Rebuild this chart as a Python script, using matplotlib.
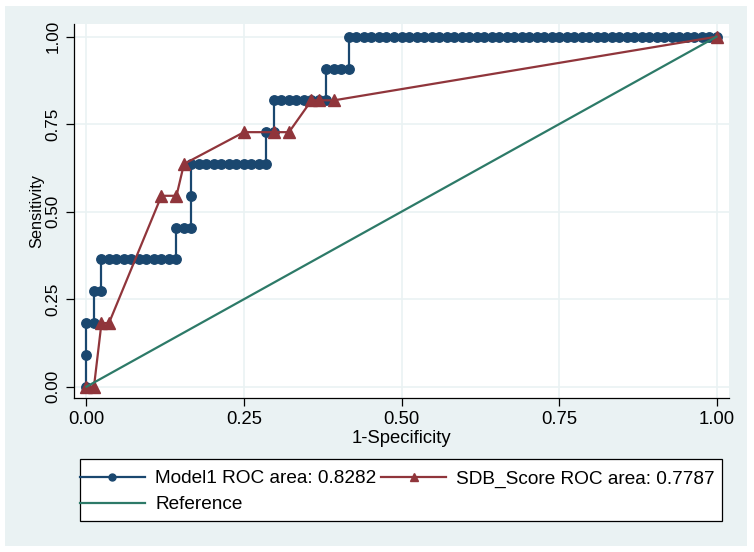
import matplotlib
matplotlib.use("Agg")
import matplotlib.pyplot as plt
from matplotlib.lines import Line2D
from matplotlib.patches import Rectangle
import numpy as np

plt.rcParams["font.family"] = ["Liberation Sans", "DejaVu Sans"]

# counts: 84 negatives, 11 positives
n_neg = 84
n_pos = 11

# Model1 ROC points (false positives, true positives)
fp_model1 = [0, 0, 0, 1, 1, 2, 2,
             3, 4, 5, 6, 7, 8, 9, 10, 11, 12,
             12, 13, 14, 14, 14,
             15, 16, 17, 18, 19, 20, 21, 22, 23, 24,
             24, 25, 25, 26, 27, 28, 29, 30, 31, 32,
             32, 33, 34, 35, 35,
             36, 37, 38, 39, 40, 41, 42, 43, 44, 45, 46, 47, 48, 49, 50, 51,
             52, 53, 54, 55, 56, 57, 58, 59, 60, 61, 62, 63, 64, 65, 66, 67,
             68, 69, 70, 71, 72, 73, 74, 75, 76, 77, 78, 79, 80, 81, 82, 83, 84]
tp_model1 = [0, 1, 2, 2, 3, 3, 4,
             4, 4, 4, 4, 4, 4, 4, 4, 4, 4,
             5, 5, 5, 6, 7,
             7, 7, 7, 7, 7, 7, 7, 7, 7, 7,
             8, 8, 9, 9, 9, 9, 9, 9, 9, 9,
             10, 10, 10, 10, 11,
             11, 11, 11, 11, 11, 11, 11, 11, 11, 11, 11, 11, 11, 11, 11, 11,
             11, 11, 11, 11, 11, 11, 11, 11, 11, 11, 11, 11, 11, 11, 11, 11,
             11, 11, 11, 11, 11, 11, 11, 11, 11, 11, 11, 11, 11, 11, 11, 11, 11]

# SDB_Score ROC points
fp_sdb = [0, 1, 2, 3, 10, 12, 13, 21, 25, 27, 30, 31, 33, 84]
tp_sdb = [0, 0, 2, 2, 6, 6, 7, 8, 8, 8, 9, 9, 9, 11]

ref_x = [0, 1]
ref_y = [0, 1]

label_model1 = "Model1 ROC area: 0.8282"
label_sdb = "SDB_Score ROC area: 0.7787"
label_ref = "Reference"
ticks = [0, 0.25, 0.5, 0.75, 1.0]
tick_labels = ["0.00", "0.25", "0.50", "0.75", "1.00"]

navy = "#1a476f"
maroon = "#90353b"
green = "#2d7a68"
bg = "#eaf2f3"

W, H = 754, 552
fig = plt.figure(figsize=(W / 100, H / 100), dpi=100)
fig.patch.set_facecolor("white")
fig.patches.append(Rectangle((5 / W, 6 / H), 742 / W, 540 / H, transform=fig.transFigure,
                             facecolor=bg, edgecolor="none", zorder=-10))

ax = fig.add_axes([74 / W, (H - 398) / H, (729 - 74) / W, (398 - 24) / H])
ax.set_facecolor("white")

x1 = np.array(fp_model1) / n_neg
y1 = np.array(tp_model1) / n_pos
x2 = np.array(fp_sdb) / n_neg
y2 = np.array(tp_sdb) / n_pos

ax.plot(x1, y1, color=navy, lw=1.6, marker="o", ms=6.8, mec=navy, mfc=navy, zorder=3)
ax.plot(x2, y2, color=maroon, lw=1.6, marker="^", ms=8, mec=maroon, mfc=maroon, zorder=4)
ax.plot(ref_x, ref_y, color=green, lw=1.6, zorder=5)

ax.set_xlim(-0.0198, 1.0198)
ax.set_ylim(-0.0323, 1.0363)
ax.set_xticks(ticks)
ax.set_xticklabels(tick_labels, fontsize=13.3)
ax.set_yticks(ticks)
ax.set_yticklabels(tick_labels, fontsize=12.3, rotation=90, va="center")
ax.grid(True, color=bg, lw=1.2, zorder=0)
ax.set_axisbelow(True)
for s in ["top", "right"]:
    ax.spines[s].set_visible(False)
for s in ["left", "bottom"]:
    ax.spines[s].set_color("black")
    ax.spines[s].set_linewidth(0.9)
ax.tick_params(axis="both", length=6, width=0.9, color="black", pad=3.5)

ax.set_xlabel("1-Specificity", fontsize=13.3, labelpad=1)
ax.set_ylabel("Sensitivity", fontsize=11.8, labelpad=1)

# legend box
fig.patches.append(Rectangle((80 / W, (H - 521) / H), 642 / W, 62 / H, transform=fig.transFigure,
                             facecolor="white", edgecolor="black", lw=0.9, zorder=1))
h1 = Line2D([], [], color=navy, lw=1.6, marker="o", ms=5, mfc=navy, mec=navy)
h2 = Line2D([], [], color=maroon, lw=1.6, marker="^", ms=6, mfc=maroon, mec=maroon)
h3 = Line2D([], [], color=green, lw=1.6)
leg = fig.legend([h1, h3, h2], [label_model1, label_ref, label_sdb], ncol=2,
                 loc="upper left", bbox_to_anchor=(80 / W, (H - 470) / H),
                 frameon=False, fontsize=13.7, borderpad=0, borderaxespad=0,
                 handlelength=3.4, handletextpad=0.55, columnspacing=0.25,
                 labelspacing=0.45)
leg.set_zorder(2)

fig.savefig("out.png", dpi=100)
